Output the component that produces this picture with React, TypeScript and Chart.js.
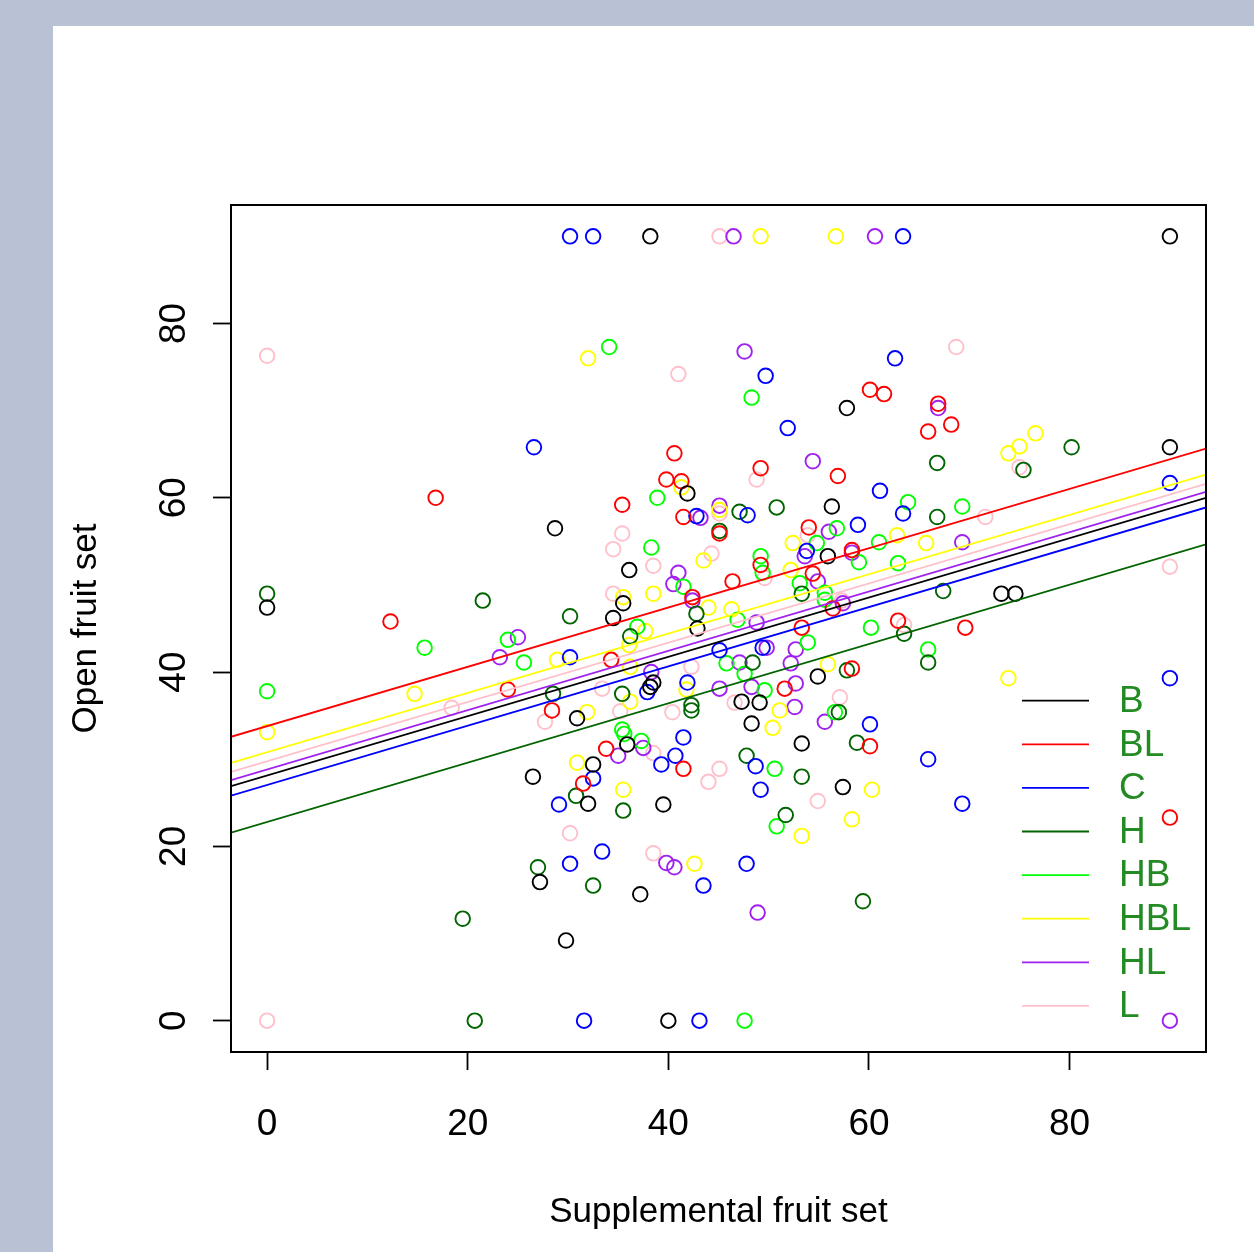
import React, { useEffect, useRef } from 'react';
import { Chart, registerables } from 'chart.js';

Chart.register(...registerables);

// ---------- data ----------
const groups = ['B', 'BL', 'C', 'H', 'HB', 'HBL', 'HL', 'L'];
const groupColors = ['#000000', '#FF0000', '#0000FF', '#006400', '#00FF00', '#FFFF00', '#A020F0', '#FFC0CB'];
const xTicks = [0, 20, 40, 60, 80];
const yTicks = [0, 20, 40, 60, 80];
const xRange = [-3.6, 93.6];
const yRange = [-3.6, 93.6];

// fitted lines (common slope, group intercepts); HB line not visible in the figure
const fitSlope = 0.3403;
const fitIntercepts: (number | null)[] = [28.14, 33.8, 27.04, 22.8, null, 30.8, 28.82, 29.76];

const ptsB: [number, number][] = [
  [38.2, 90], [90, 90], [40, 0], [0, 47.4], [90, 65.8], [57.8, 70.3], [41.9, 60.5], [56.3, 59.0],
  [28.7, 56.5], [55.9, 53.3], [36.1, 51.7], [35.5, 47.9], [34.5, 46.2], [42.9, 45.0], [73.2, 49.0],
  [74.6, 49.0], [54.9, 39.5], [38.5, 38.8], [38.2, 38.3], [47.3, 36.6], [49.1, 36.5], [30.9, 34.7],
  [48.3, 34.1], [35.9, 31.7], [53.3, 31.8], [57.4, 26.8], [26.5, 28.0], [32.5, 29.4], [32.0, 24.9],
  [39.5, 24.8], [37.2, 14.5], [27.2, 15.9], [29.8, 9.2],
];
const ptsBL: [number, number][] = [
  [16.8, 60.0], [12.3, 45.8], [40.6, 65.1], [49.2, 63.4], [56.9, 62.5], [39.8, 62.1], [41.3, 61.9],
  [35.4, 59.2], [60.1, 72.4], [61.5, 71.9], [66.9, 70.8], [68.2, 68.4], [65.9, 67.6], [41.5, 57.8],
  [45.1, 55.9], [54.0, 56.6], [58.3, 54.0], [49.2, 52.3], [54.4, 51.3], [46.4, 50.4], [56.4, 47.3],
  [42.4, 48.6], [53.3, 45.1], [62.9, 45.9], [69.6, 45.1], [34.3, 41.4], [24.0, 38.0], [28.4, 35.6],
  [58.3, 40.4], [51.6, 38.1], [60.1, 31.5], [33.8, 31.2], [41.5, 28.9], [31.5, 27.2], [90, 23.3],
];
const ptsC: [number, number][] = [
  [30.2, 90], [32.5, 90], [63.4, 90], [31.6, 0], [43.1, 0], [90, 61.7], [90, 39.3], [62.6, 76.0],
  [49.7, 74.0], [51.9, 68.0], [26.6, 65.8], [61.1, 60.8], [63.4, 58.2], [42.8, 57.9], [47.9, 58.0],
  [58.9, 56.9], [53.8, 53.9], [30.2, 41.7], [45.1, 42.5], [49.4, 42.8], [37.9, 37.7], [41.9, 38.8],
  [60.1, 34.0], [41.5, 32.5], [40.7, 30.4], [39.3, 29.4], [48.7, 29.2], [49.2, 26.5], [32.5, 27.8],
  [29.1, 24.8], [33.4, 19.4], [30.2, 18.0], [47.8, 18.0], [43.5, 15.5], [65.9, 30.0], [69.3, 24.9],
];
const ptsH: [number, number][] = [
  [20.7, 0], [0, 49.0], [21.5, 48.2], [28.5, 37.5], [45.1, 56.2], [47.1, 58.4], [50.8, 58.9],
  [66.8, 64.0], [80.2, 65.8], [75.4, 63.2], [66.8, 57.8], [67.4, 49.3], [53.3, 49.0], [30.2, 46.4],
  [42.8, 46.7], [36.2, 44.1], [63.5, 44.4], [65.9, 41.1], [48.4, 41.1], [57.8, 40.2], [35.4, 37.5],
  [42.3, 36.2], [42.3, 35.6], [57.0, 35.4], [58.8, 31.9], [47.8, 30.4], [53.3, 28.0], [30.8, 25.8],
  [35.5, 24.1], [51.7, 23.6], [32.5, 15.5], [59.4, 13.7], [27.0, 17.6], [19.5, 11.7],
];
const ptsHB: [number, number][] = [
  [47.6, 0], [0, 37.8], [34.1, 77.3], [48.3, 71.5], [38.9, 60.0], [63.9, 59.5], [69.3, 59.0],
  [61.0, 54.9], [62.9, 52.5], [56.8, 56.5], [38.3, 54.3], [54.8, 54.8], [59.0, 52.6], [49.2, 53.3],
  [49.4, 51.4], [41.5, 49.8], [53.1, 50.2], [55.6, 49.1], [55.6, 48.3], [46.9, 46.0], [60.2, 45.1],
  [36.9, 45.2], [24.0, 43.7], [15.7, 42.8], [25.6, 41.1], [53.9, 43.4], [45.8, 41.0], [47.6, 39.8],
  [49.6, 37.9], [56.6, 35.4], [35.4, 33.4], [35.6, 32.9], [37.3, 32.1], [50.6, 28.9], [50.8, 22.3],
  [65.9, 42.6],
];
const ptsHBL: [number, number][] = [
  [49.2, 90], [56.7, 90], [0, 33.1], [32.0, 76.0], [41.3, 61.2], [73.9, 65.1], [75.0, 65.9],
  [76.6, 67.4], [45.1, 58.6], [62.8, 55.7], [65.7, 54.8], [52.4, 54.8], [43.5, 52.8], [52.2, 51.7],
  [35.5, 48.6], [38.5, 49.0], [44.0, 47.4], [46.3, 47.2], [37.7, 44.7], [36.1, 43.1], [14.7, 37.5],
  [28.9, 41.4], [55.9, 40.9], [36.2, 40.6], [41.8, 38.0], [36.2, 36.6], [31.9, 35.4], [51.1, 35.6],
  [50.4, 33.6], [30.9, 29.6], [35.5, 26.5], [60.3, 26.5], [58.3, 23.1], [53.3, 21.2], [42.6, 18.0],
  [73.9, 39.3],
];
const ptsHL: [number, number][] = [
  [46.5, 90], [60.6, 90], [90, 0], [47.6, 76.8], [66.9, 70.3], [54.4, 64.2], [45.1, 59.1],
  [43.2, 57.7], [56.0, 56.1], [53.6, 53.3], [58.3, 53.7], [41.0, 51.4], [40.5, 50.1], [54.9, 50.4],
  [42.4, 48.2], [57.4, 47.9], [48.8, 45.7], [69.3, 54.9], [25.0, 44.0], [23.2, 41.7], [49.8, 42.8],
  [52.7, 42.6], [52.2, 41.0], [47.1, 41.1], [38.3, 40.0], [45.1, 38.1], [48.3, 38.3], [52.7, 38.7],
  [52.6, 36.0], [55.6, 34.3], [37.5, 31.3], [35.0, 30.4], [39.8, 18.1], [40.6, 17.6], [48.9, 12.4],
];
const ptsL: [number, number][] = [
  [45.1, 90], [0, 76.3], [0, 0], [41.0, 74.2], [68.7, 77.3], [48.8, 62.1], [90, 52.1], [75.0, 63.5],
  [71.6, 57.8], [45.1, 58.2], [35.4, 55.9], [34.5, 54.1], [53.9, 55.7], [44.3, 53.6], [49.6, 50.8],
  [38.5, 52.2], [57.3, 48.2], [34.5, 49.0], [63.5, 45.4], [18.4, 35.9], [27.7, 34.3], [42.3, 40.6],
  [33.4, 38.1], [40.4, 35.4], [35.2, 35.5], [46.6, 36.5], [57.1, 37.1], [38.5, 30.7], [44.0, 27.4],
  [45.1, 28.9], [54.9, 25.2], [30.2, 21.5], [38.5, 19.2],
];
const groupPoints = [ptsB, ptsBL, ptsC, ptsH, ptsHB, ptsHBL, ptsHL, ptsL];

const xTitle = 'Supplemental fruit set';
const yTitle = 'Open fruit set';

// ---------- chart ----------
const FONT = "'Liberation Sans', Arial, Helvetica, sans-serif";

const boxPlugin = {
  id: 'rbox',
  afterDraw(chart: any) {
    const { ctx, chartArea: a } = chart;
    ctx.save();
    ctx.strokeStyle = '#000';
    ctx.lineWidth = 2;
    ctx.strokeRect(a.left, a.top, a.right - a.left, a.bottom - a.top);
    ctx.restore();
  },
};

const legendPlugin = {
  id: 'rlegend',
  afterDraw(chart: any) {
    const { ctx, chartArea: a } = chart;
    ctx.save();
    const step = 43.6;
    const y0 = a.bottom - 351.3;
    groups.forEach((g, i) => {
      const y = y0 + i * step;
      ctx.strokeStyle = groupColors[i];
      ctx.lineWidth = 1.8;
      ctx.beginPath();
      ctx.moveTo(a.right - 184, y);
      ctx.lineTo(a.right - 117, y);
      ctx.stroke();
      ctx.fillStyle = '#228B22';
      ctx.font = `37px ${FONT}`;
      ctx.textAlign = 'left';
      ctx.textBaseline = 'middle';
      ctx.fillText(g, a.right - 87, y + 1);
    });
    ctx.restore();
  },
};

export default function App() {
  const ref = useRef<HTMLCanvasElement>(null);

  useEffect(() => {
    if (!ref.current) return;
    const [x0, x1] = xRange;
    const lineSets: any[] = [];
    groups.forEach((g, i) => {
      const b = fitIntercepts[i];
      if (b === null) return;
      lineSets.push({
        label: g + ' fit',
        data: [
          { x: x0, y: b + fitSlope * x0 },
          { x: x1, y: b + fitSlope * x1 },
        ],
        showLine: true,
        borderColor: groupColors[i],
        borderWidth: 1.8,
        pointRadius: 0,
        pointHoverRadius: 0,
        fill: false,
        order: 0,
      });
    });
    const pointSets = groups.map((g, i) => ({
      label: g,
      data: groupPoints[i].map(([x, y]) => ({ x, y })),
      showLine: false,
      borderColor: groupColors[i],
      backgroundColor: 'rgba(0,0,0,0)',
      pointRadius: 7.3,
      pointHoverRadius: 7.3,
      pointBorderWidth: 1.9,
      pointStyle: 'circle',
      order: 1,
    }));

    const chart = new Chart(ref.current, {
      type: 'scatter',
      data: { datasets: [...lineSets, ...pointSets] },
      options: {
        animation: false,
        responsive: false,
        maintainAspectRatio: false,
        events: [],
        layout: { padding: { left: 0, top: 179, right: 48, bottom: 0 } },
        plugins: { legend: { display: false }, tooltip: { enabled: false } },
        scales: {
          x: {
            type: 'linear',
            min: xRange[0],
            max: xRange[1],
            afterBuildTicks: (s: any) => {
              s.ticks = xTicks.map((v) => ({ value: v }));
            },
            afterFit: (s: any) => {
              s.height = 200;
            },
            grid: { drawOnChartArea: false, drawTicks: true, tickLength: 18, tickColor: '#000', tickWidth: 1.8 },
            border: { display: false },
            ticks: {
              font: { family: FONT, size: 37 },
              color: '#000',
              padding: 33,
              maxRotation: 0,
              minRotation: 0,
              autoSkip: false,
            },
            title: {
              display: true,
              text: xTitle,
              color: '#000',
              font: { family: FONT, size: 35 },
              padding: { top: 0, bottom: 19 },
            },
          },
          y: {
            type: 'linear',
            min: yRange[0],
            max: yRange[1],
            afterBuildTicks: (s: any) => {
              s.ticks = yTicks.map((v) => ({ value: v }));
            },
            afterFit: (s: any) => {
              s.width = 178;
            },
            grid: { drawOnChartArea: false, drawTicks: true, tickLength: 18, tickColor: '#000', tickWidth: 1.8 },
            border: { display: false },
            ticks: {
              font: { family: FONT, size: 37 },
              color: '#000',
              padding: 18,
              minRotation: 90,
              maxRotation: 90,
              crossAlign: 'center',
              autoSkip: false,
            },
            title: {
              display: true,
              text: yTitle,
              color: '#000',
              font: { family: FONT, size: 35 },
              padding: { top: 12, bottom: 0 },
            },
          },
        },
      } as any,
      plugins: [boxPlugin, legendPlugin],
    });
    return () => chart.destroy();
  }, []);

  return (
    <div
      style={{
        position: 'absolute',
        left: 0,
        top: 0,
        width: 1254,
        height: 1252,
        background: '#B8C2D4',
        overflow: 'hidden',
      }}
    >
      <div style={{ position: 'absolute', left: 53, top: 26, width: 1201, height: 1226, background: '#FFFFFF' }}>
        <canvas ref={ref} width={1201} height={1226} style={{ display: 'block', width: 1201, height: 1226 }} />
      </div>
    </div>
  );
}
